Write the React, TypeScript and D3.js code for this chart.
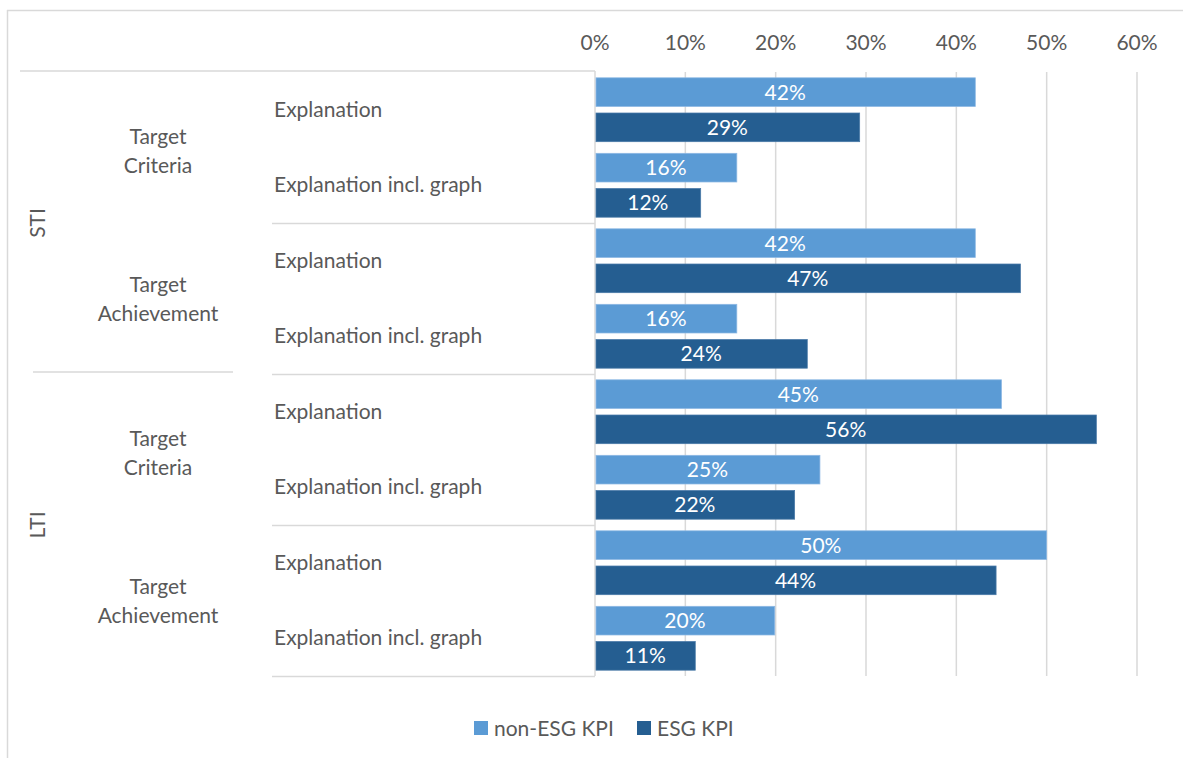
import React from "react";
import * as d3 from "d3";

const outerCats = ["STI", "LTI"];
const midCats = ["Target Criteria", "Target Achievement"];
const innerCats = ["Explanation", "Explanation incl. graph"];
const seriesNames = ["non-ESG KPI", "ESG KPI"];
const nonEsgValues = [42.1, 15.7, 42.1, 15.7, 45.0, 24.9, 50.0, 19.9];
const esgValues = [29.3, 11.7, 47.1, 23.5, 55.5, 22.1, 44.4, 11.1];
const xTicks = [0, 10, 20, 30, 40, 50, 60];

const W = 1183;
const H = 758;
const FONT = "Lato, 'Open Sans', sans-serif";
const FS = 21;
const TXT = "#595959";
const GRID = "#d9d9d9";
const COLORS = ["#5B9BD5", "#255E91"];

export default function App() {
  const rows: { outer: string; mid: string; inner: string; idx: number }[] = [];
  let k = 0;
  outerCats.forEach((o) =>
    midCats.forEach((m) =>
      innerCats.forEach((c) => {
        rows.push({ outer: o, mid: m, inner: c, idx: k++ });
      })
    )
  );

  const x = d3.scaleLinear().domain([0, 60]).range([595, 1137]);
  const y = d3
    .scaleBand<number>()
    .domain(rows.map((r) => r.idx))
    .range([72, 676])
    .padding(0);
  const ys = d3
    .scaleBand<string>()
    .domain(seriesNames)
    .range([0, y.bandwidth()])
    .paddingInner(0.185)
    .paddingOuter(0.165);

  const series = [nonEsgValues, esgValues];
  const top = 72;
  const bottom = 676;
  const bw = y.bandwidth();

  return (
    <svg
      width={W}
      height={H}
      style={{ position: "absolute", left: 0, top: 0, background: "#fff" }}
      fontFamily={FONT}
    >
      {/* outer border */}
      <line x1={7.5} y1={10} x2={7.5} y2={H} stroke={GRID} strokeWidth={1.5} />
      <line x1={7} y1={10.5} x2={W} y2={10.5} stroke={GRID} strokeWidth={1.5} />

      {/* gridlines */}
      {xTicks.map((t) => (
        <g key={t}>
          {t > 0 && (
            <line x1={x(t)} x2={x(t)} y1={top} y2={bottom} stroke={GRID} strokeWidth={1.5} />
          )}
          <text x={x(t)} y={50} textAnchor="middle" fontSize={FS} fill={TXT}>
            {t}%
          </text>
        </g>
      ))}

      {/* category axis lines */}
      <line x1={595} x2={595} y1={71} y2={676} stroke={GRID} strokeWidth={1.5} />
      <line x1={20} x2={595} y1={71} y2={71} stroke={GRID} strokeWidth={1.5} />
      <line x1={33} x2={233} y1={372} y2={372} stroke={GRID} strokeWidth={1.5} />
      {[2, 4, 6, 8].map((i) => (
        <line
          key={i}
          x1={272}
          x2={595}
          y1={(y(i) ?? bottom) + 0.5}
          y2={(y(i) ?? bottom) + 0.5}
          stroke={GRID}
          strokeWidth={1.5}
        />
      ))}

      {/* bars */}
      {rows.map((r) =>
        series.map((vals, si) => {
          const y0 = (y(r.idx) ?? 0) + (ys(seriesNames[si]) ?? 0);
          const v = vals[r.idx];
          return (
            <g key={r.idx + "-" + si}>
              <rect
                x={x(0) + 1}
                y={y0}
                width={x(v) - x(0) - 1}
                height={ys.bandwidth()}
                fill={COLORS[si]}
                stroke={si === 0 ? "#8db8e3" : "#4a7aa8"}
                strokeWidth={0.75}
              />
              <text
                x={(x(0) + x(v)) / 2}
                y={y0 + ys.bandwidth() / 2 + 7.5}
                textAnchor="middle"
                fontSize={FS}
                fill="#fff"
              >
                {Math.round(v)}%
              </text>
            </g>
          );
        })
      )}

      {/* inner labels */}
      {rows.map((r) => (
        <text
          key={"l" + r.idx}
          x={274}
          y={(y(r.idx) ?? 0) + bw / 2 + 7}
          fontSize={FS}
          fill={TXT}
        >
          {r.inner}
        </text>
      ))}

      {/* mid labels */}
      {outerCats.map((o, oi) =>
        midCats.map((m, mi) => {
          const start = oi * 4 + mi * 2;
          const cy = (y(start) ?? 0) + bw + (mi === 0 ? 3 : 0);
          const words = m.split(" ");
          return (
            <text key={o + m} x={158} textAnchor="middle" fontSize={FS} fill={TXT}>
              <tspan x={158} y={cy - 7}>
                {words[0]}
              </tspan>
              <tspan x={158} y={cy + 22}>
                {words[1]}
              </tspan>
            </text>
          );
        })
      )}

      {/* outer labels */}
      {outerCats.map((o, oi) => {
        const cy = (y(oi * 4) ?? 0) + bw * 2;
        return (
          <text
            key={o}
            transform={`translate(45,${cy}) rotate(-90)`}
            textAnchor="middle"
            fontSize={FS}
            fill={TXT}
          >
            {o}
          </text>
        );
      })}

      {/* legend */}
      {seriesNames.map((s, i) => {
        const lx = i === 0 ? 474 : 637;
        return (
          <g key={s}>
            <rect x={lx} y={721} width={14} height={14} fill={COLORS[i]} />
            <text x={lx + 20} y={736} fontSize={FS} fill={TXT}>
              {s}
            </text>
          </g>
        );
      })}
    </svg>
  );
}
